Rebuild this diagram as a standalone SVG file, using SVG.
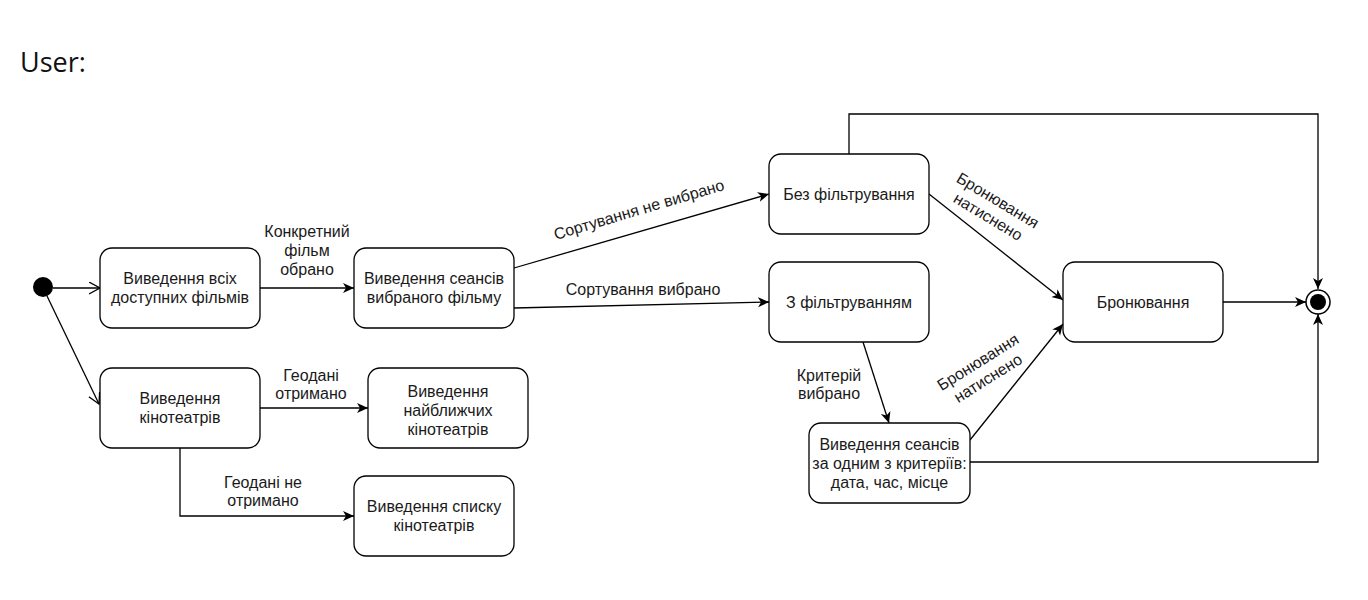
<svg xmlns="http://www.w3.org/2000/svg" width="1368" height="600" viewBox="0 0 1368 600">
<style>
.node rect{fill:#fff;stroke:#000;stroke-width:1.3}
.t{font-family:"Liberation Sans",Arial,sans-serif;font-size:16px;fill:#1a1a1a;text-anchor:middle}
.c{fill:none;stroke:#000;stroke-width:1.3}
.f{marker-end:url(#arrF)}
.o{marker-end:url(#arrO)}
</style>
<defs>
<marker id="arrF" markerUnits="userSpaceOnUse" markerWidth="14" markerHeight="12" refX="11" refY="5" orient="auto">
<path d="M0,0 L11,5 L0,10 L3,5 Z" fill="#000"/>
</marker>
<marker id="arrO" markerUnits="userSpaceOnUse" markerWidth="14" markerHeight="14" refX="11" refY="6" orient="auto">
<path d="M0,0 L11,6 L0,12" fill="none" stroke="#000" stroke-width="1.3"/>
</marker>
</defs>
<rect width="1368" height="600" fill="#fff"/>
<text x="20" y="72" font-family="'Open Sans','Noto Sans',sans-serif" font-size="27" fill="#111">User:</text>

<g id="connectors">
<path class="c o" d="M53,288 L100,288"/>
<path class="c o" d="M47,296 L99,404"/>
<path class="c f" d="M260,288 L354,288"/>
<path class="c f" d="M514,268 L769,194"/>
<path class="c f" d="M514,308 L769,302"/>
<path class="c f" d="M260,408 L368,408"/>
<path class="c f" d="M180,448 L180,516 L354,516"/>
<path class="c f" d="M849,154 L849,114 L1318,114 L1318,289"/>
<path class="c f" d="M929,194 L1063,300"/>
<path class="c f" d="M863,342 L889,423"/>
<path class="c f" d="M970,440 L1063,324"/>
<path class="c f" d="M1223,302 L1306,302"/>
<path class="c f" d="M970,462 L1318,462 L1318,314"/>
<text class="t" x="307" y="237">Конкретний</text>
<text class="t" x="307" y="256">фільм</text>
<text class="t" x="307" y="275">обрано</text>
<text class="t" transform="translate(639,210) rotate(-16.5)" x="0" y="5">Сортування не вибрано</text>
<text class="t" x="643" y="295">Сортування вибрано</text>
<text class="t" x="311" y="381">Геодані</text>
<text class="t" x="311" y="399">отримано</text>
<text class="t" x="263" y="488">Геодані не</text>
<text class="t" x="263" y="506">отримано</text>
<text class="t" x="829" y="381">Критерій</text>
<text class="t" x="829" y="399">вибрано</text>
<g transform="translate(993,208.5) rotate(31)">
<text class="t" x="0" y="-4">Бронювання</text>
<text class="t" x="0" y="15">натиснено</text>
</g>
<g transform="translate(983,370) rotate(-32)">
<text class="t" x="0" y="-4">Бронювання</text>
<text class="t" x="0" y="15">натиснено</text>
</g>
</g>

<g id="start"><circle cx="43" cy="287" r="10" fill="#000"/></g>
<g id="end"><circle cx="1318" cy="302" r="12" fill="#fff" stroke="#000" stroke-width="1.5"/><circle cx="1318" cy="302" r="8" fill="#000"/></g>

<g id="n-all-films" class="node"><rect x="100" y="248" width="160" height="80" rx="12"/>
<text class="t" x="180" y="284">Виведення всіх</text><text class="t" x="180" y="303">доступних фільмів</text></g>
<g id="n-sessions" class="node"><rect x="354" y="248" width="160" height="80" rx="12"/>
<text class="t" x="434" y="284">Виведення сеансів</text><text class="t" x="434" y="303">вибраного фільму</text></g>
<g id="n-cinemas" class="node"><rect x="100" y="368" width="160" height="80" rx="12"/>
<text class="t" x="180" y="404">Виведення</text><text class="t" x="180" y="423">кінотеатрів</text></g>
<g id="n-nearest" class="node"><rect x="368" y="368" width="160" height="80" rx="12"/>
<text class="t" x="448" y="397">Виведення</text><text class="t" x="448" y="416">найближчих</text><text class="t" x="448" y="435">кінотеатрів</text></g>
<g id="n-list" class="node"><rect x="354" y="476" width="160" height="80" rx="12"/>
<text class="t" x="434" y="512">Виведення списку</text><text class="t" x="434" y="531">кінотеатрів</text></g>
<g id="n-nofilter" class="node"><rect x="769" y="154" width="160" height="80" rx="12"/>
<text class="t" x="849" y="200">Без фільтрування</text></g>
<g id="n-filter" class="node"><rect x="769" y="262" width="160" height="80" rx="12"/>
<text class="t" x="849" y="308">З фільтруванням</text></g>
<g id="n-booking" class="node"><rect x="1063" y="262" width="160" height="80" rx="12"/>
<text class="t" x="1143" y="308">Бронювання</text></g>
<g id="n-criteria" class="node"><rect x="809" y="423" width="161" height="80" rx="12"/>
<text class="t" x="889.5" y="450">Виведення сеансів</text><text class="t" x="889.5" y="469">за одним з критеріїв:</text><text class="t" x="889.5" y="488">дата, час, місце</text></g>
</svg>
